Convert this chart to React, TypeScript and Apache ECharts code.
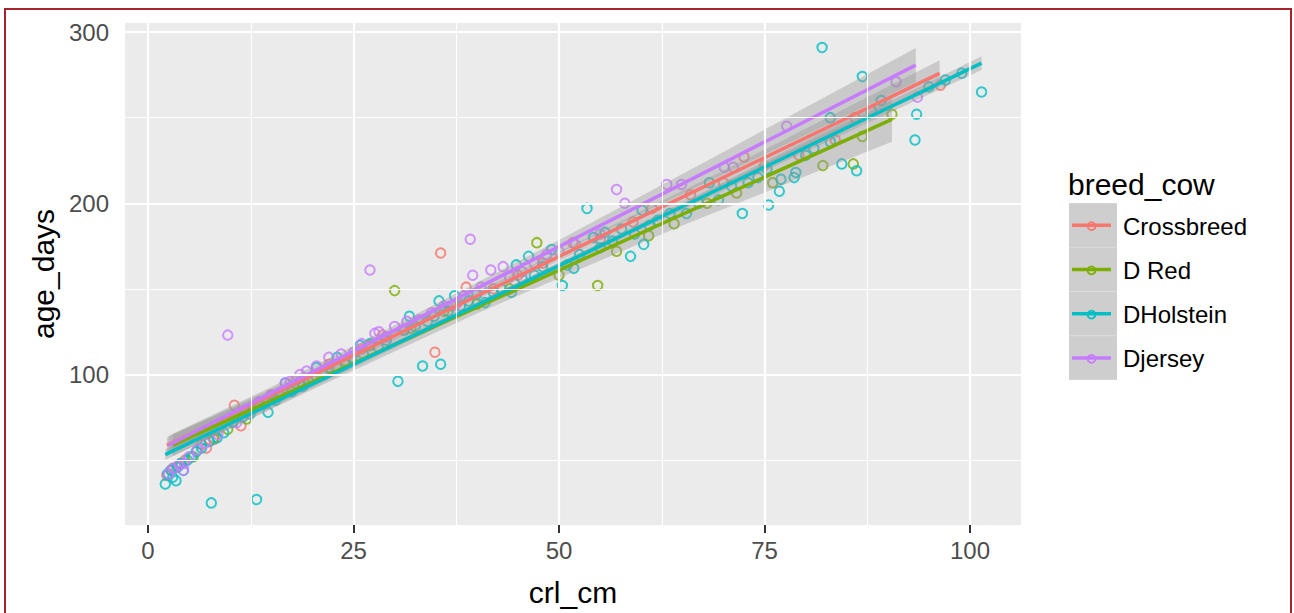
import React, { useEffect, useRef } from 'react';
import * as echarts from 'echarts';

const breeds = ['Crossbreed', 'D Red', 'DHolstein', 'Djersey'];
const breedColors = ['#F8766D', '#7CAE00', '#00BFC4', '#C77CFF'];

const xTicks = [0, 25, 50, 75, 100];
const xMinor = [12.5, 37.5, 62.5, 87.5];
const yTicks = [100, 200, 300];
const yMinor = [50, 150, 250];

// observed points [crl_cm, age_days]
const crossbreedPts = [
  [2.3, 41], [2.8, 44], [3.5, 46], [4.5, 50], [6.5, 59], [7.1, 57], [8.0, 62], [10.5, 82],
  [11.3, 70], [15.0, 88], [18.0, 97], [22.0, 106], [26.0, 115], [28.5, 123], [31.0, 126],
  [34.9, 113], [35.6, 171], [37.0, 140], [38.7, 151], [42.0, 150], [45.0, 158], [48.0, 165],
  [51.7, 177], [55.0, 179], [59.0, 189], [61.3, 197], [66.0, 205], [70.0, 212], [72.5, 227],
  [75.0, 222], [79.2, 228], [83.6, 237], [86.0, 250], [96.4, 269],
];
const dRedPts = [
  [3.0, 45], [4.0, 48], [5.5, 52], [8.0, 63], [9.7, 68], [12.0, 74], [16.0, 88], [20.0, 98],
  [24.0, 108], [27.0, 117], [30.0, 149], [32.0, 127], [36.0, 137], [40.0, 141], [44.0, 150],
  [47.3, 177], [50.0, 158], [54.7, 152], [57.0, 172], [60.9, 181], [64.0, 188], [68.0, 200],
  [71.6, 206], [76.0, 212], [82.1, 222], [85.8, 223], [86.9, 239], [90.5, 252],
];
const dHolsteinPts = [
  [2.1, 36], [2.4, 42], [2.8, 44], [3.0, 40], [3.4, 38], [3.6, 46], [4.0, 48], [4.3, 44],
  [4.8, 50], [5.3, 52], [5.9, 55], [6.5, 57], [7.5, 61], [7.7, 25], [13.2, 27], [8.4, 63],
  [9.2, 66], [10.3, 72], [11.5, 75], [12.4, 77], [14.6, 78], [13.5, 82], [15.5, 85], [16.7, 95],
  [17.5, 90], [18.8, 93], [19.5, 96], [20.5, 104], [21.4, 100], [22.0, 104], [23.0, 110],
  [24.0, 106], [24.8, 110], [25.8, 117], [26.2, 112], [27.0, 118], [28.0, 116], [29.0, 120],
  [30.4, 96], [31.2, 126], [31.8, 134], [32.5, 128], [33.4, 105], [34.0, 131], [34.8, 134],
  [35.6, 106], [35.4, 143], [36.5, 137], [37.3, 146], [38.0, 140], [39.0, 143], [40.0, 147],
  [41.0, 142], [42.0, 148], [43.0, 150], [44.2, 148], [44.8, 164], [45.5, 156], [46.3, 169],
  [47.0, 158], [48.0, 163], [49.1, 173], [50.4, 152], [51.0, 164], [51.8, 162], [52.5, 170],
  [53.4, 197], [54.2, 180], [55.0, 174], [55.6, 183], [56.5, 178], [57.6, 185], [58.7, 169],
  [59.2, 182], [60.1, 196], [60.3, 176], [61.0, 187], [62.0, 190], [63.5, 194], [65.5, 194],
  [67.0, 200], [68.3, 212], [69.4, 202], [71.0, 210], [72.3, 194], [73.0, 212], [74.2, 215],
  [75.3, 220], [75.5, 199], [76.8, 207], [77.0, 214], [78.6, 215], [78.8, 218], [80.0, 228],
  [81.0, 232], [82.0, 291], [83.0, 250], [83.0, 236], [84.4, 223], [86.2, 219], [86.9, 274],
  [88.0, 254], [89.2, 260], [93.3, 237], [93.5, 252], [95.0, 268], [97.0, 272], [99.0, 276],
  [101.4, 265],
];
const djerseyPts = [
  [2.5, 42], [3.0, 45], [3.8, 47], [4.3, 44], [4.4, 48], [5.0, 52], [6.0, 56], [7.0, 60],
  [9.7, 123], [8.5, 65], [10.8, 72], [12.0, 78], [13.5, 84], [15.0, 88], [16.7, 95], [17.3, 96],
  [18.5, 100], [19.3, 102], [20.5, 105], [22.0, 110], [23.5, 112], [25.0, 113], [26.0, 118],
  [27.0, 161], [27.6, 124], [28.1, 125], [29.0, 122], [30.0, 128], [31.5, 131], [33.0, 132],
  [34.5, 136], [36.0, 140], [37.5, 141], [38.5, 146], [39.2, 179], [39.5, 158], [40.5, 151],
  [41.7, 161], [43.2, 163], [44.0, 157], [45.5, 160], [47.0, 165], [48.5, 170], [50.0, 172],
  [52.0, 176], [55.0, 182], [57.0, 208], [58.0, 200], [63.1, 211], [64.9, 211], [70.1, 221],
  [71.2, 221], [77.7, 245], [91.0, 271], [93.6, 262],
];

// fitted lines (end points) and confidence bands
const crossbreedFitX = [2.3, 96.3];
const crossbreedFitY = [58.7, 275.9];
const crossbreedBandX = [2.3, 25, 45, 70, 96.3];
const crossbreedBandLo = [54.2, 108.4, 155.0, 211.1, 268.2];
const crossbreedBandHi = [63.2, 114.0, 159.8, 219.1, 283.6];

const dRedFitX = [3.0, 90.5];
const dRedFitY = [58.7, 249.0];
const dRedBandX = [3.0, 20, 40, 65, 90.5];
const dRedBandLo = [52.2, 91.2, 135.7, 187.1, 236.0];
const dRedBandHi = [65.2, 100.2, 142.7, 200.1, 262.0];

const dHolsteinFitX = [2.1, 101.4];
const dHolsteinFitY = [53.2, 281.9];
const dHolsteinBandX = [2.1, 25, 50, 75, 101.4];
const dHolsteinBandLo = [50.0, 104.0, 161.9, 218.8, 277.9];
const dHolsteinBandHi = [56.4, 108.0, 165.3, 223.4, 285.9];

const djerseyFitX = [2.5, 93.4];
const djerseyFitY = [58.7, 280.7];
const djerseyBandX = [2.5, 15, 28, 50, 70, 93.4];
const djerseyBandLo = [53.2, 85.7, 118.2, 170.9, 217.0, 270.7];
const djerseyBandHi = [64.2, 92.7, 123.8, 178.5, 230.0, 290.7];

const groups = [
  { pts: crossbreedPts, fx: crossbreedFitX, fy: crossbreedFitY, bx: crossbreedBandX, lo: crossbreedBandLo, hi: crossbreedBandHi },
  { pts: dRedPts, fx: dRedFitX, fy: dRedFitY, bx: dRedBandX, lo: dRedBandLo, hi: dRedBandHi },
  { pts: dHolsteinPts, fx: dHolsteinFitX, fy: dHolsteinFitY, bx: dHolsteinBandX, lo: dHolsteinBandLo, hi: dHolsteinBandHi },
  { pts: djerseyPts, fx: djerseyFitX, fy: djerseyFitY, bx: djerseyBandX, lo: djerseyBandLo, hi: djerseyBandHi },
];

const FONT = '"Liberation Sans", Arial, sans-serif';

export default function App() {
  const ref = useRef<HTMLDivElement>(null);
  useEffect(() => {
    if (!ref.current) return;
    const chart = echarts.init(ref.current, undefined, { renderer: 'svg' });

    const series: any[] = [];
    // gridlines
    series.push({
      type: 'line',
      data: [],
      z: 1,
      silent: true,
      markLine: {
        silent: true,
        symbol: 'none',
        label: { show: false },
        animation: false,
        data: [
          ...xMinor.map((v) => ({ xAxis: v, lineStyle: { color: '#FFFFFF', width: 1.1, type: 'solid' } })),
          ...yMinor.map((v) => ({ yAxis: v, lineStyle: { color: '#FFFFFF', width: 1.1, type: 'solid' } })),
          ...xTicks.map((v) => ({ xAxis: v, lineStyle: { color: '#FFFFFF', width: 2.2, type: 'solid' } })),
          ...yTicks.map((v) => ({ yAxis: v, lineStyle: { color: '#FFFFFF', width: 2.2, type: 'solid' } })),
        ],
      },
    });
    // points
    groups.forEach((g, i) => {
      series.push({
        type: 'scatter',
        name: breeds[i],
        data: g.pts,
        z: 2,
        symbol: 'circle',
        symbolSize: 9.5,
        itemStyle: { color: 'rgba(0,0,0,0)', borderColor: breedColors[i], borderWidth: 2 },
      });
    });
    // smooth: ribbon + line per group
    groups.forEach((g, i) => {
      series.push({
        type: 'custom',
        name: breeds[i] + ' band',
        z: 3,
        silent: true,
        clip: true,
        data: g.bx.map((x, k) => [x, g.lo[k], g.hi[k]]),
        encode: { x: 0, y: [1, 2] },
        renderItem: (params: any, api: any) => {
          if (params.dataIndex !== 0) return null;
          const pts: number[][] = [];
          for (let k = 0; k < g.bx.length; k++) pts.push(api.coord([g.bx[k], g.hi[k]]));
          for (let k = g.bx.length - 1; k >= 0; k--) pts.push(api.coord([g.bx[k], g.lo[k]]));
          return { type: 'polygon', shape: { points: pts }, style: { fill: 'rgba(153,153,153,0.4)' } };
        },
      });
      series.push({
        type: 'line',
        name: breeds[i] + ' fit',
        z: 3,
        data: g.fx.map((x, k) => [x, g.fy[k]]),
        showSymbol: false,
        symbol: 'none',
        lineStyle: { color: breedColors[i], width: 3.5 },
      });
    });

    const rowH = 44.25;
    const keyTop = 203;
    const legendEls: any[] = [
      { type: 'rect', shape: { x: 1069, y: keyTop, width: 48, height: rowH * 4 }, style: { fill: '#DCDCDC' } },
    ];
    breeds.forEach((b, i) => {
      const cy = keyTop + rowH * (i + 0.5);
      legendEls.push({ type: 'rect', shape: { x: 1069, y: keyTop + rowH * i + 0.5, width: 48, height: rowH - 1 }, style: { fill: '#CECECE' } });
      legendEls.push({ type: 'line', shape: { x1: 1072, y1: cy, x2: 1111, y2: cy }, style: { stroke: breedColors[i], lineWidth: 3.5 } });
      legendEls.push({ type: 'circle', shape: { cx: 1091.5, cy: cy + 1, r: 4 }, style: { fill: 'none', stroke: breedColors[i], lineWidth: 1.8 } });
      legendEls.push({ type: 'text', x: 1123, y: cy + 1, style: { text: b, font: `24px ${FONT}`, fill: '#000000', verticalAlign: 'middle', align: 'left' } });
    });

    chart.setOption({
      animation: false,
      backgroundColor: '#FFFFFF',
      grid: { left: 125, top: 23, width: 896, height: 502, show: true, backgroundColor: '#EBEBEB', borderWidth: 0 },
      xAxis: {
        type: 'value',
        min: -2.8,
        max: 106.2,
        name: 'crl_cm',
        nameLocation: 'middle',
        nameGap: 52,
        nameTextStyle: { fontSize: 30, color: '#000000', fontFamily: FONT },
        axisLine: { show: false },
        axisTick: { show: true, length: 8, customValues: xTicks, lineStyle: { color: '#333333', width: 2 } },
        axisLabel: { customValues: xTicks, fontSize: 24, color: '#4D4D4D', fontFamily: FONT, margin: 13 },
        splitLine: { show: false },
      },
      yAxis: {
        type: 'value',
        min: 12.1,
        max: 305.3,
        name: 'age_days',
        nameLocation: 'middle',
        nameGap: 64,
        nameTextStyle: { fontSize: 30, color: '#000000', fontFamily: FONT },
        axisLine: { show: false },
        axisTick: { show: true, length: 8, customValues: yTicks, lineStyle: { color: '#333333', width: 2 } },
        axisLabel: { customValues: yTicks, fontSize: 24, color: '#4D4D4D', fontFamily: FONT, margin: 16 },
        splitLine: { show: false },
      },
      graphic: [
        { type: 'text', x: 1068, y: 184, style: { text: 'breed_cow', font: `30px ${FONT}`, fill: '#000000', verticalAlign: 'middle', align: 'left' } },
        ...legendEls,
        { type: 'rect', z: 100, shape: { x: 5, y: 9, width: 1286, height: 620 }, style: { fill: 'none', stroke: '#A3262A', lineWidth: 2 } },
      ],
      series,
    });
    return () => chart.dispose();
  }, []);
  return <div ref={ref} style={{ position: 'fixed', left: 0, top: 0, width: 1294, height: 613, background: '#fff' }} />;
}
